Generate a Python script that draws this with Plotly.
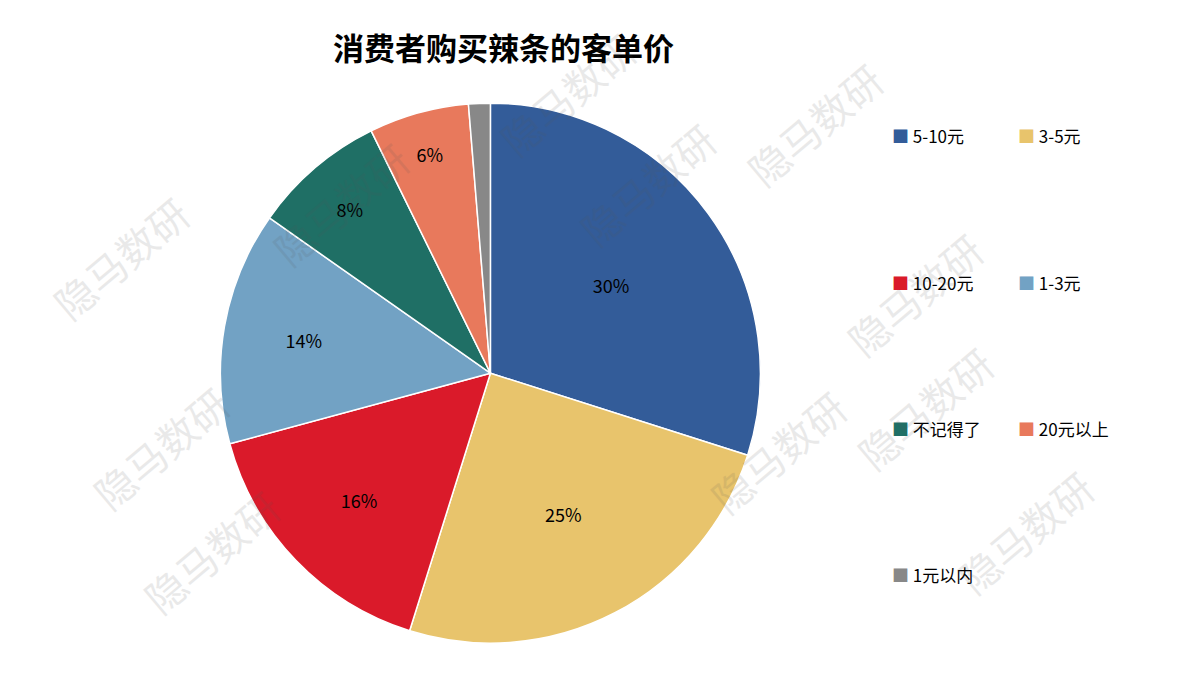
import plotly.graph_objects as go

labels = ['5-10元', '3-5元', '10-20元', '1-3元', '不记得了', '20元以上', '1元以内']
values = [30, 25, 16, 14, 8, 6, 1.3]
shown = ['30%', '25%', '16%', '14%', '8%', '6%', '']
colors = ['#335c99', '#e8c46c', '#da1a2a', '#72a2c4', '#1f6f65', '#e8795c', '#888888']

font = 'Noto Sans CJK SC'

fig = go.Figure()
fig.add_trace(go.Pie(
    labels=labels, values=values, text=shown, textinfo='text',
    sort=False, direction='clockwise', rotation=0,
    marker=dict(colors=colors, line=dict(color='white', width=1.5)),
    textposition='inside', insidetextorientation='horizontal',
    textfont=dict(size=18, color='black', family=font),
    domain=dict(x=[0.176, 0.628], y=[0.059, 0.859]),
    showlegend=False, hoverinfo='label+percent'
))

# legend drawn as two columns of annotations
annotations = []
legend_x = [0.735, 0.84]
legend_y = [128, 274, 420, 566]
for i, (lab, col) in enumerate(zip(labels, colors)):
    r, c = divmod(i, 2)
    annotations.append(dict(
        x=legend_x[c], y=1 - legend_y[r] / 675, xref='paper', yref='paper',
        xanchor='left', yanchor='middle', showarrow=False,
        text=f'<span style="color:{col}">■</span> {lab}',
        font=dict(size=17, color='black', family=font)
    ))

# faint watermarks
marks = [(250, 120), (30, 250), (70, 440), (120, 620), (640, 100), (890, 40),
         (990, 210), (1000, 400), (770, 520), (1100, 600), (560, 10)]
for mx, my in marks:
    annotations.append(dict(
        x=mx / 1200, y=1 - my / 675, xref='paper', yref='paper', showarrow=False,
        text='隐马数研', textangle=-40, opacity=0.12,
        font=dict(size=40, color='#555555', family=font)
    ))

fig.update_layout(
    width=1200, height=675, margin=dict(l=0, r=0, t=0, b=0),
    paper_bgcolor='white', plot_bgcolor='white',
    title=dict(text='<b>消费者购买辣条的客单价</b>', x=0.413, xanchor='center', y=0.955,
               font=dict(size=31, color='black', family=font)),
    annotations=annotations
)

fig.write_html("out.html")
